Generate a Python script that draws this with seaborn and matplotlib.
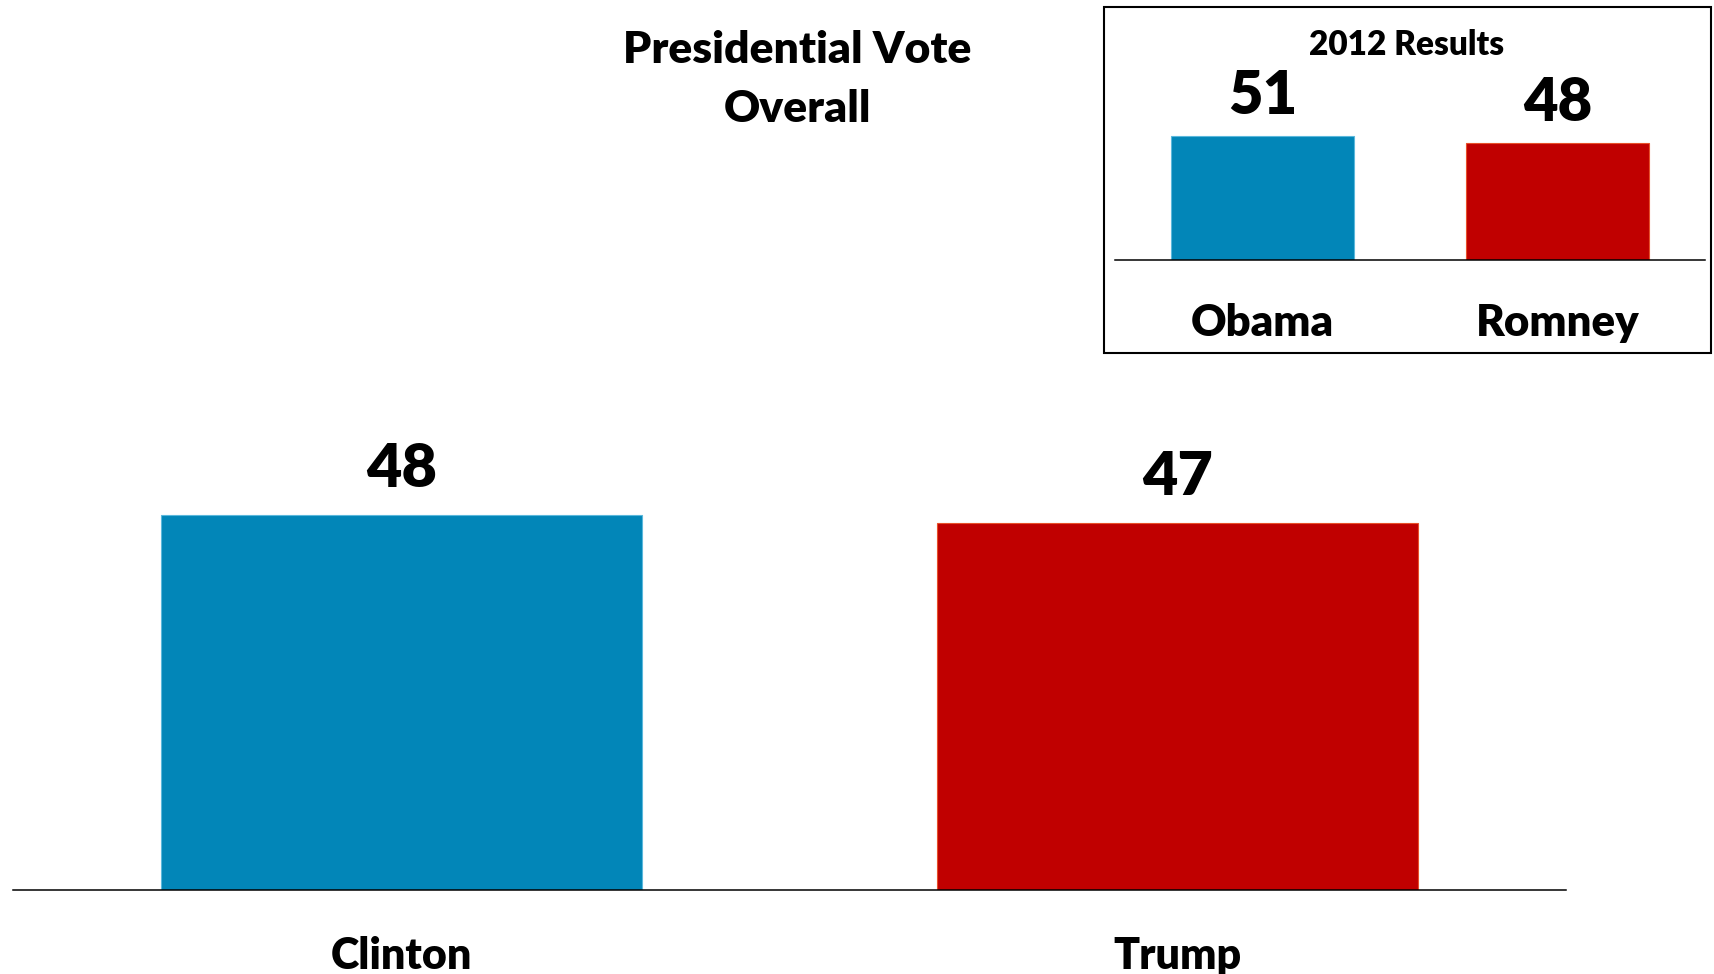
import matplotlib
matplotlib.use("Agg")
import matplotlib.pyplot as plt
import seaborn as sns
import pandas as pd
from matplotlib.patches import Rectangle

candidates_2016 = ["Clinton", "Trump"]
votes_2016 = [48, 47]
candidates_2012 = ["Obama", "Romney"]
votes_2012 = [51, 48]
bar_colors = ["#0286B8", "#C00000"]
edge_colors = ["#5BB8DC", "#E8502A"]

sns.set_theme(style="white")
plt.rcParams['font.family'] = ['Lato', 'DejaVu Sans']
W = "heavy"

fig = plt.figure(figsize=(17.14, 9.74), dpi=100)

def draw(ax, cats, vals, width, label_size, val_size, val_off, lab_pad):
    df = pd.DataFrame({"cand": cats, "vote": vals})
    sns.barplot(data=df, x="cand", y="vote", hue="cand", palette=bar_colors,
                width=width, legend=False, ax=ax, saturation=1)
    for p, ec in zip(ax.patches, edge_colors):
        p.set_edgecolor(ec)
        p.set_linewidth(0.8)
    ax.set_xlim(-0.5, 1.5)
    ax.set_ylim(0, 60)
    for s in ["left", "right", "top"]:
        ax.spines[s].set_visible(False)
    ax.spines["bottom"].set_color("black")
    ax.spines["bottom"].set_linewidth(1.1)
    ax.set_yticks([])
    ax.set_xlabel("")
    ax.set_ylabel("")
    ax.tick_params(axis="x", length=0, pad=lab_pad, labelsize=label_size)
    for t in ax.get_xticklabels():
        t.set_fontweight(W)
        t.set_color("black")
    for i, v in enumerate(vals):
        ax.annotate(f"{v}", xy=(i, v), xytext=(0, val_off), textcoords="offset points",
                    ha="center", va="baseline", fontsize=val_size, fontweight=W,
                    color="black")
    ax.patch.set_alpha(0)

# main axes
ax = fig.add_axes([0.0076, 0.0862, 0.906, 0.4815])
draw(ax, candidates_2016, votes_2016, 0.62, 31, 44, 20, 33)

# inset box
fig.add_artist(Rectangle((0.6441, 0.6376), 0.3541, 0.3552, transform=fig.transFigure,
                         fill=False, edgecolor="black", linewidth=1.5))
ax2 = fig.add_axes([0.6505, 0.7331, 0.3442, 0.1499])
draw(ax2, candidates_2012, votes_2012, 0.62, 31.5, 43, 16, 31)

fig.text(0.4650, 1 - 63 / 974, "Presidential Vote", ha="center", va="baseline",
         fontsize=32, fontweight=W, color="black")
fig.text(0.4650, 1 - 122 / 974, "Overall", ha="center", va="baseline",
         fontsize=32, fontweight=W, color="black")
fig.text(1407 / 1714, 1 - 55 / 974, "2012 Results", ha="center", va="baseline",
         fontsize=24, fontweight=W, color="black")

fig.savefig("out.png", dpi=100)
